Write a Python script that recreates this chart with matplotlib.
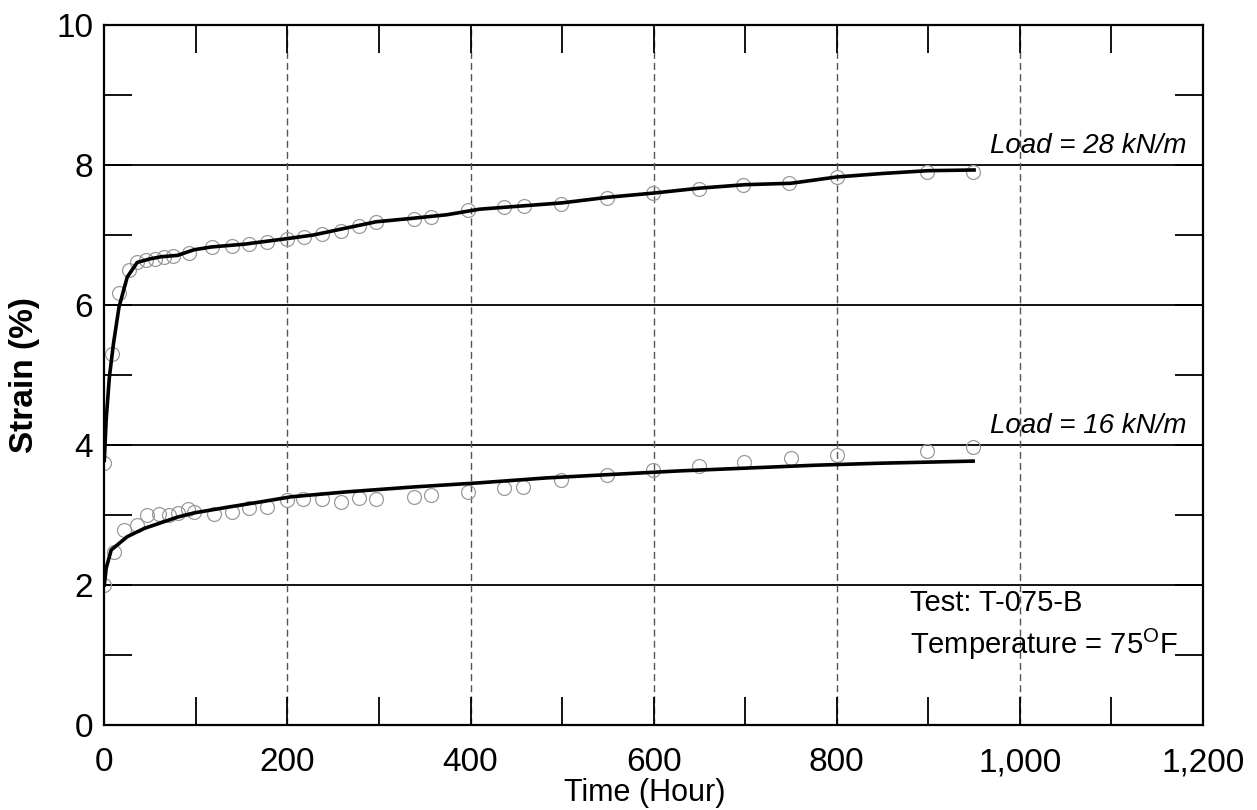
import matplotlib
matplotlib.use("Agg")
import matplotlib.pyplot as plt
from matplotlib.ticker import FixedLocator, FuncFormatter

plt.rcParams['font.family'] = ['Liberation Sans', 'DejaVu Sans']
plt.rcParams['mathtext.fontset'] = 'custom'
plt.rcParams['mathtext.rm'] = 'Liberation Sans'

# --- data ---
# measured points, Load = 28 kN/m
x28 = [0, 8, 16, 27, 36, 45, 55, 65, 75, 93, 118, 139, 158, 178, 199, 218, 238,
       258, 278, 297, 338, 357, 397, 437, 458, 499, 549, 599, 649, 698, 748, 800,
       899, 949]
y28 = [3.74, 5.3, 6.17, 6.5, 6.62, 6.64, 6.66, 6.68, 6.7, 6.75, 6.83, 6.84, 6.87,
       6.9, 6.94, 6.97, 7.01, 7.06, 7.13, 7.19, 7.23, 7.26, 7.36, 7.4, 7.41, 7.44,
       7.53, 7.6, 7.66, 7.72, 7.75, 7.83, 7.9, 7.9]
# measured points, Load = 16 kN/m
x16 = [0, 11, 22, 36, 47, 60, 71, 80, 91, 98, 120, 139, 158, 178, 199, 217, 238,
       258, 278, 297, 338, 357, 397, 437, 457, 499, 549, 599, 650, 699, 750, 800,
       899, 949]
y16 = [2.0, 2.47, 2.79, 2.86, 3.0, 3.01, 3.0, 3.03, 3.09, 3.04, 3.01, 3.04, 3.1,
       3.12, 3.22, 3.23, 3.23, 3.19, 3.24, 3.23, 3.26, 3.29, 3.33, 3.38, 3.4, 3.5,
       3.57, 3.64, 3.7, 3.76, 3.81, 3.86, 3.92, 3.97]
# fitted curves
c28x = [0, 2, 5.5, 10, 16, 25, 36, 50, 62, 80, 98, 117, 153, 200, 228, 264, 297,
        337, 374, 410, 500, 550, 600, 650, 700, 750, 800, 850, 900, 950]
c28y = [3.78, 4.36, 4.97, 5.45, 5.97, 6.4, 6.61, 6.66, 6.69, 6.71, 6.79, 6.83,
        6.87, 6.95, 7.0, 7.1, 7.19, 7.24, 7.29, 7.37, 7.46, 7.54, 7.6, 7.67, 7.72,
        7.74, 7.83, 7.88, 7.92, 7.93]
c16x = [0, 2, 7.5, 25, 44, 62, 80, 98, 134, 172, 204, 264, 337, 410, 483, 555,
        628, 701, 774, 847, 949]
c16y = [2.0, 2.24, 2.5, 2.69, 2.81, 2.89, 2.97, 3.03, 3.11, 3.19, 3.26, 3.33, 3.4,
        3.46, 3.53, 3.58, 3.63, 3.67, 3.71, 3.74, 3.77]

xticks = [0, 200, 400, 600, 800, 1000, 1200]
yticks = [0, 2, 4, 6, 8, 10]
xminor = [100, 300, 500, 700, 900, 1100]
yminor = [1, 3, 5, 7, 9]
hgrid = [2, 4, 6, 8]
vgrid = [200, 400, 600, 800, 1000]

fig = plt.figure(figsize=(12.57, 8.10), dpi=100)
ax = fig.add_axes([0.083, 0.105, 0.874, 0.864])
ax.set_xlim(0, 1200)
ax.set_ylim(0, 10)

for v in hgrid:
    ax.axhline(v, color='black', lw=1.3, zorder=1)
for v in vgrid:
    ax.axvline(v, color='#555555', lw=1.0, ls=(0, (5, 3)), zorder=1)

ax.plot(x28, y28, ls='none', marker='o', ms=10, mfc='none', mec='#9a9a9a',
        mew=0.9, zorder=2)
ax.plot(x16, y16, ls='none', marker='o', ms=10, mfc='none', mec='#9a9a9a',
        mew=0.9, zorder=2)
ax.plot(c28x, c28y, color='black', lw=2.6, zorder=3)
ax.plot(c16x, c16y, color='black', lw=2.6, zorder=3)

ax.xaxis.set_major_locator(FixedLocator(xticks))
ax.yaxis.set_major_locator(FixedLocator(yticks))
ax.xaxis.set_minor_locator(FixedLocator(xminor))
ax.yaxis.set_minor_locator(FixedLocator(yminor))
ax.xaxis.set_major_formatter(FuncFormatter(lambda v, p: f"{int(v):,}"))
ax.tick_params(which='both', direction='in', top=True, right=True,
               length=20, width=1.3, color='black')
ax.tick_params(which='major', labelsize=24)
ax.tick_params(axis='y', which='major', pad=8)
ax.tick_params(axis='x', which='major', pad=16)
for s in ax.spines.values():
    s.set_linewidth(1.6)

ax.set_xlabel('Time (Hour)', fontsize=22, va='center')
ax.xaxis.set_label_coords(0.492, -0.097)
ax.set_ylabel('Strain (%)', fontsize=24, fontweight='bold', labelpad=12)

ax.text(1182, 8.08, 'Load = 28 kN/m', fontsize=20, style='italic',
        ha='right', va='bottom')
ax.text(1182, 4.08, 'Load = 16 kN/m', fontsize=20, style='italic',
        ha='right', va='bottom')
ax.text(880, 1.74, 'Test: T-075-B', fontsize=21, ha='left', va='center')
ax.text(880, 1.15, 'Temperature = 75$^{\\mathrm{O}}$F', fontsize=21,
        ha='left', va='center')

fig.savefig('out.png', dpi=100)
